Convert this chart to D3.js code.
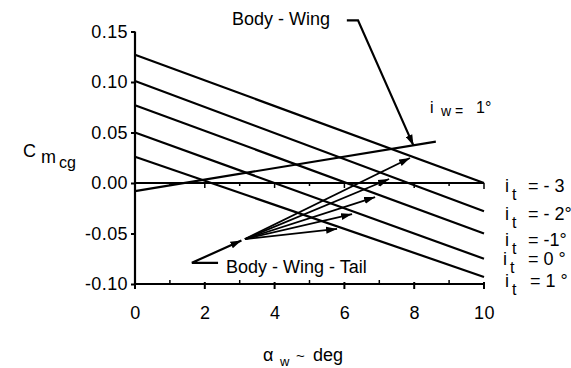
<!DOCTYPE html>
<html><head><meta charset="utf-8">
<script src="https://cdn.jsdelivr.net/npm/d3@7"></script>
<style>
html,body{margin:0;padding:0;background:#fff;}
svg{display:block;}
text{font-family:"Liberation Sans",Arial,Helvetica,sans-serif;fill:#000;}
</style></head>
<body>
<svg id="chart" width="571" height="368"></svg>
<script>
// ---- data ----
const alphaRange = [0, 10];
const tailIncidence = ["- 3", "- 2°", "-1°", "0 °", "1 °"];
const cmAtAlpha0 = [0.127, 0.101, 0.077, 0.050, 0.026];
const cmAtAlpha10 = [0.000, -0.028, -0.050, -0.075, -0.093];
const bodyWingAlpha = [0, 8.62];
const bodyWingCm = [-0.008, 0.041];
const fanOrigin = [3.15, -0.0555];
const fanTipAlpha = [5.79, 6.22, 6.88, 7.28, 7.88];
const fanTipCm = [-0.0455, -0.0307, -0.0139, 0.004, 0.0248];
const bwtLeaderAlpha = [2.38, 1.63, 3.05];
const bwtLeaderCm = [-0.079, -0.079, -0.057];
const bwLeaderAlpha = [6.07, 6.39, 7.98];
const bwLeaderCm = [0.161, 0.161, 0.037];
const xTicks = [0, 2, 4, 6, 8, 10];
const xMinorTicks = [1, 3, 5, 7, 9];
const yTicks = [-0.10, -0.05, 0.00, 0.05, 0.10, 0.15];

// ---- drawing ----
const svg = d3.select("#chart");
const x = d3.scaleLinear().domain([0, 10]).range([135, 484]);
const y = d3.scaleLinear().domain([-0.10, 0.15]).range([284, 31.5]);

const defs = svg.append("defs");
defs.append("marker").attr("id", "arr")
  .attr("viewBox", "0 -4 11 8").attr("refX", 11).attr("refY", 0)
  .attr("markerUnits", "userSpaceOnUse").attr("markerWidth", 11).attr("markerHeight", 8)
  .attr("orient", "auto")
  .append("path").attr("d", "M0,-3.5L11,0L0,3.5Z").attr("fill", "#000");

const fmtY = d => d3.format(".2f")(d).replace("−", "-");

// y axis
const yAxis = svg.append("g").attr("transform", `translate(${x(0)},0)`)
  .call(d3.axisLeft(y).tickValues(yTicks).tickSize(4).tickPadding(3).tickFormat(fmtY));
yAxis.select(".domain").attr("d", `M0,${y(0.15)}V${y(-0.10)}`).attr("stroke-width", 2.2);
yAxis.selectAll(".tick line").attr("stroke-width", 2);
yAxis.selectAll("text").style("font-size", "18px").style("letter-spacing", "0.4px");

// x axis
const xAxis = svg.append("g").attr("transform", `translate(0,${y(-0.10)})`)
  .call(d3.axisBottom(x).tickValues(xTicks).tickSize(0).tickPadding(22).tickFormat(d3.format("d")));
xAxis.select(".domain").attr("d", `M${x(0)},0H${x(10)}`).attr("stroke-width", 2.2);
xAxis.selectAll("text").style("font-size", "18px").style("letter-spacing", "0.4px");
xAxis.selectAll(".tick line").remove();
xAxis.selectAll(".maj").data(xTicks).enter().append("line")
  .attr("x1", d => x(d)).attr("x2", d => x(d)).attr("y1", -2).attr("y2", 5)
  .attr("stroke", "#000").attr("stroke-width", 2);
xAxis.selectAll(".min").data(xMinorTicks).enter().append("line")
  .attr("x1", d => x(d)).attr("x2", d => x(d)).attr("y1", -4).attr("y2", 0)
  .attr("stroke", "#000").attr("stroke-width", 1.5);

// zero line with ticks
const zero = svg.append("g").attr("transform", `translate(0,${y(0)})`);
zero.append("line").attr("x1", x(0)).attr("x2", x(10)).attr("y1", 0).attr("y2", 0)
  .attr("stroke", "#000").attr("stroke-width", 2.2);
zero.selectAll(".zmaj").data(xTicks.slice(1)).enter().append("line")
  .attr("x1", d => x(d)).attr("x2", d => x(d)).attr("y1", 0).attr("y2", d => d === 10 ? 6 : 5)
  .attr("stroke", "#000").attr("stroke-width", 1.5);
zero.selectAll(".zmin").data(xMinorTicks).enter().append("line")
  .attr("x1", d => x(d)).attr("x2", d => x(d)).attr("y1", 0).attr("y2", 3)
  .attr("stroke", "#000").attr("stroke-width", 1.5);

// Body-wing-tail lines
const line = d3.line().x(d => x(d[0])).y(d => y(d[1]));
tailIncidence.forEach((t, i) => {
  svg.append("path")
    .attr("d", line([[alphaRange[0], cmAtAlpha0[i]], [alphaRange[1], cmAtAlpha10[i]]]))
    .attr("fill", "none").attr("stroke", "#000").attr("stroke-width", 2.2);
});
// Body-wing line
svg.append("path")
  .attr("d", line(bodyWingAlpha.map((a, i) => [a, bodyWingCm[i]])))
  .attr("fill", "none").attr("stroke", "#000").attr("stroke-width", 2.2);

// fan arrows
fanTipAlpha.forEach((a, i) => {
  svg.append("path").attr("d", line([fanOrigin, [a, fanTipCm[i]]]))
    .attr("fill", "none").attr("stroke", "#000").attr("stroke-width", 1.8)
    .attr("marker-end", "url(#arr)");
});
// BWT leader
svg.append("path").attr("d", line(bwtLeaderAlpha.map((a, i) => [a, bwtLeaderCm[i]])))
  .attr("fill", "none").attr("stroke", "#000").attr("stroke-width", 2.2)
  .attr("marker-end", "url(#arr)");
// BW leader
svg.append("path").attr("d", line(bwLeaderAlpha.map((a, i) => [a, bwLeaderCm[i]])))
  .attr("fill", "none").attr("stroke", "#000").attr("stroke-width", 2.2)
  .attr("marker-end", "url(#arr)");

// annotations
svg.append("text").attr("x", 232).attr("y", 25).style("font-size", "18px").text("Body - Wing");
svg.append("text").attr("x", 226).attr("y", 273).style("font-size", "18px").text("Body - Wing - Tail");

const iw = svg.append("text").attr("x", 430).attr("y", 113).attr("xml:space", "preserve");
iw.append("tspan").style("font-size", "16px").text("i");
iw.append("tspan").attr("x", 441).attr("dy", 3).style("font-size", "14px").text("w =");
iw.append("tspan").attr("x", 476).attr("dy", -3).style("font-size", "16px").text("1°");

// right labels
const rowY = [192, 220, 246, 265, 287];
const rowX = [505, 505, 505, 503, 505];
const eqX = [528, 528, 528, 528, 530];
tailIncidence.forEach((t, i) => {
  const tx = svg.append("text").attr("x", rowX[i]).attr("y", rowY[i]).attr("xml:space", "preserve")
    .style("font-size", "18px");
  tx.append("tspan").text("i");
  tx.append("tspan").attr("x", rowX[i] + 7).attr("dy", 8).style("font-size", "16px").text("t");
  tx.append("tspan").attr("x", eqX[i]).attr("dy", -8).text("= " + t);
});

// y label C_m_cg
const cl = svg.append("text").attr("x", 23).attr("y", 157);
cl.append("tspan").style("font-size", "18px").text("C");
cl.append("tspan").attr("x", 41).attr("dy", 6).style("font-size", "18px").text("m");
cl.append("tspan").attr("x", 59).attr("dy", 5).style("font-size", "16px").text("cg");

// x label
const xl = svg.append("text").attr("x", 263).attr("y", 361).attr("xml:space", "preserve");
xl.append("tspan").style("font-size", "18px").text("α");
xl.append("tspan").attr("x", 280).attr("dy", 5).style("font-size", "13px").text("w");
xl.append("tspan").attr("x", 296).attr("dy", -5).style("font-size", "15px").text("~");
xl.append("tspan").attr("x", 313).style("font-size", "18px").text("deg");
</script>
</body></html>
